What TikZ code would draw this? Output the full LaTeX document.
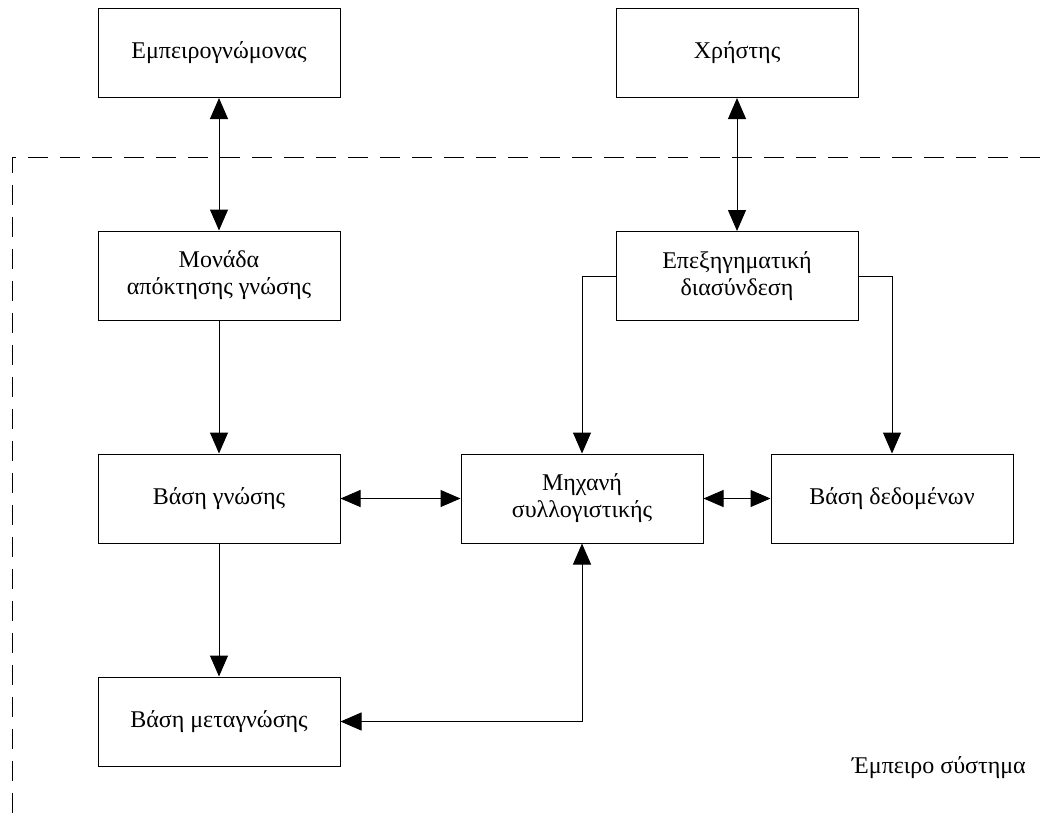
\documentclass[tikz,border=0pt]{standalone}
\usepackage{fontspec}
\setmainfont{Liberation Serif}
\usetikzlibrary{arrows.meta}
\begin{document}
\begin{tikzpicture}[x=1pt,y=-1pt,
  font=\fontsize{24}{27}\selectfont,
  blk/.style={draw, line width=1pt, minimum width=242pt, minimum height=89pt,
    inner sep=0pt, align=center, anchor=center},
  link/.style={line width=1pt, -{Triangle[width=18pt,length=21pt]}},
  link2/.style={line width=1pt, {Triangle[width=18pt,length=21pt]}-{Triangle[width=18pt,length=21pt]}},
  link3/.style={line width=1pt, {Triangle[width=17pt,length=20pt]}-{Triangle[width=17pt,length=20pt]}}]
  % canvas
  \useasboundingbox (0,0) rectangle (1040,823);
  \fill[white] (0,0) rectangle (1040,823);

  % system boundary (open on the right and bottom)
  \coordinate (bnd-r) at (1040,157);
  \coordinate (bnd-c) at (12,157);
  \coordinate (bnd-b) at (12,823);
  \draw[line width=1pt, dash pattern=on 20pt off 12pt] (bnd-r) -- (bnd-c) -- (bnd-b);

  % blocks
  \node[blk] (expert) at (219,53)    {Εμπειρογνώμονας};
  \node[blk] (user)   at (737,53)    {Χρήστης};
  \node[blk] (acq)    at (219,275.5) {Μονάδα\\απόκτησης γνώσης};
  \node[blk] (expl)   at (737,276)   {Επεξηγηματική\\διασύνδεση};
  \node[blk] (kb)     at (219,498.5) {Βάση γνώσης};
  \node[blk] (inf)    at (582,498.5) {Μηχανή\\συλλογιστικής};
  \node[blk] (db)     at (892,498.5) {Βάση δεδομένων};
  \node[blk] (meta)   at (219,721.5) {Βάση μεταγνώσης};

  \node (label) at (939,768) {Έμπειρο σύστημα};

  % connectors
  \draw[link2] (expert.south) -- (acq.north);
  \draw[link2] (user.south) -- (expl.north);
  \draw[link] (acq.south) -- (kb.north);
  \draw[link] (kb.south) -- (meta.north);
  \draw[link] (expl.west) -| (inf.north);
  \draw[link] (expl.east) -| (db.north);
  \draw[link3] (kb.east) -- (inf.west);
  \draw[link3] (inf.east) -- (db.west);
  \draw[link2] (meta.east) -| (inf.south);
\end{tikzpicture}
\end{document}
